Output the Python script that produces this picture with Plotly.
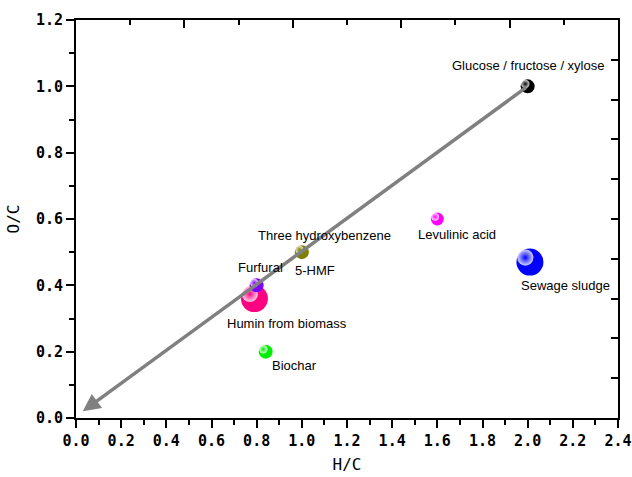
import plotly.graph_objects as go

names = ["Glucose / fructose / xylose", "Three hydroxybenzene", "5-HMF", "Levulinic acid",
         "Sewage sludge", "Furfural", "Humin from biomass", "Biochar"]
hc = [2.0, 1.0, 1.0, 1.6, 2.01, 0.8, 0.79, 0.84]
oc = [1.0, 0.5, 0.5, 0.6, 0.47, 0.4, 0.36, 0.2]
colors = ["#000000", "#808000", "#808000", "#FF00FF", "#0000FF", "#8000FF", "#FF0080", "#00EE00"]
sizes = [14, 14, 14, 13, 27, 14, 27, 14]
# label offsets in pixels (xshift, yshift)
label_dx = [0, 23, 13, 20, 36, 4, 33, 29]
label_dy = [21, 17, -18, -15, -23, 18, -25, -14]

arrow_start = (2.0, 1.0)
arrow_end = (0.03, 0.02)

fig = go.Figure()

# spheres
order = [6, 4, 0, 1, 3, 5, 7]
for i in order:
    fig.add_trace(go.Scatter(x=[hc[i]], y=[oc[i]], mode="markers",
                             marker=dict(size=sizes[i], color=colors[i], line=dict(width=0)),
                             showlegend=False, hoverinfo="skip"))
    s = sizes[i]
    dxp = -s * 0.17 / 225.8
    dyp = s * 0.17 / 331.7
    fig.add_trace(go.Scatter(x=[hc[i] + dxp], y=[oc[i] + dyp], mode="markers",
                             marker=dict(size=s * 0.6, color="rgba(255,255,255,0.9)",
                                         gradient=dict(type="radial", color=colors[i]),
                                         line=dict(width=0), opacity=0.9),
                             showlegend=False, hoverinfo="skip"))

# arrow
fig.add_annotation(x=arrow_end[0], y=arrow_end[1], ax=arrow_start[0], ay=arrow_start[1],
                   xref="x", yref="y", axref="x", ayref="y", showarrow=True,
                   arrowhead=2, arrowsize=1.0, arrowwidth=3.5, arrowcolor="#808080", text="")

for i in range(len(names)):
    fig.add_annotation(x=hc[i], y=oc[i], xref="x", yref="y", text=names[i], showarrow=False,
                       xshift=label_dx[i], yshift=label_dy[i],
                       font=dict(family="Liberation Sans, Arial", size=13, color="#000000"))

tickfont = dict(family="DejaVu Sans Mono", size=15, color="#000000", weight="bold")

fig.update_layout(
    width=632, height=477,
    margin=dict(l=76, r=14, t=20, b=59),
    paper_bgcolor="white", plot_bgcolor="white",
    xaxis=dict(range=[0, 2.4], tickvals=[round(0.2 * k, 1) for k in range(13)],
               ticktext=[f"{0.2 * k:.1f}" for k in range(13)], automargin=False,
               showgrid=False, zeroline=False, showline=True, linecolor="#000000", linewidth=2,
               ticks="outside", ticklen=8, tickwidth=2, tickcolor="#000000",
               minor=dict(dtick=0.1, tick0=0, ticks="outside", ticklen=5, tickwidth=2, tickcolor="#000000"),
               tickfont=tickfont,
               title=dict(text="H/C", font=dict(family="DejaVu Sans Mono", size=16, color="#000000"), standoff=10)),
    yaxis=dict(range=[0, 1.2], tickvals=[round(0.2 * k, 1) for k in range(7)],
               ticktext=[f"{0.2 * k:.1f}" for k in range(7)], automargin=False,
               showgrid=False, zeroline=False, showline=True, linecolor="#000000", linewidth=2,
               ticks="outside", ticklen=8, tickwidth=2, tickcolor="#000000",
               minor=dict(dtick=0.1, tick0=0, ticks="outside", ticklen=5, tickwidth=2, tickcolor="#000000"),
               tickfont=tickfont,
               title=dict(text="O/C", font=dict(family="DejaVu Sans Mono", size=16, color="#000000"), standoff=12)),
    xaxis2=dict(overlaying="x", side="top", range=[0, 2.0], showgrid=False, zeroline=False, automargin=False,
                showline=True, linecolor="#000000", linewidth=2, showticklabels=False,
                tickvals=[0.4, 0.8, 1.2, 1.6, 2.0], ticks="inside", ticklen=8, tickwidth=2, tickcolor="#000000",
                minor=dict(dtick=0.2, tick0=0, ticks="inside", ticklen=5, tickwidth=2, tickcolor="#000000")),
    yaxis2=dict(overlaying="y", side="right", range=[0, 1.0], showgrid=False, zeroline=False, automargin=False,
                showline=True, linecolor="#000000", linewidth=2, showticklabels=False,
                dtick=0.1, ticks="inside", ticklen=7, tickwidth=2, tickcolor="#000000"),
)
fig.add_trace(go.Scatter(x=[None], y=[None], xaxis="x2", yaxis="y2", showlegend=False, hoverinfo="skip"))

fig.write_html("out.html")
